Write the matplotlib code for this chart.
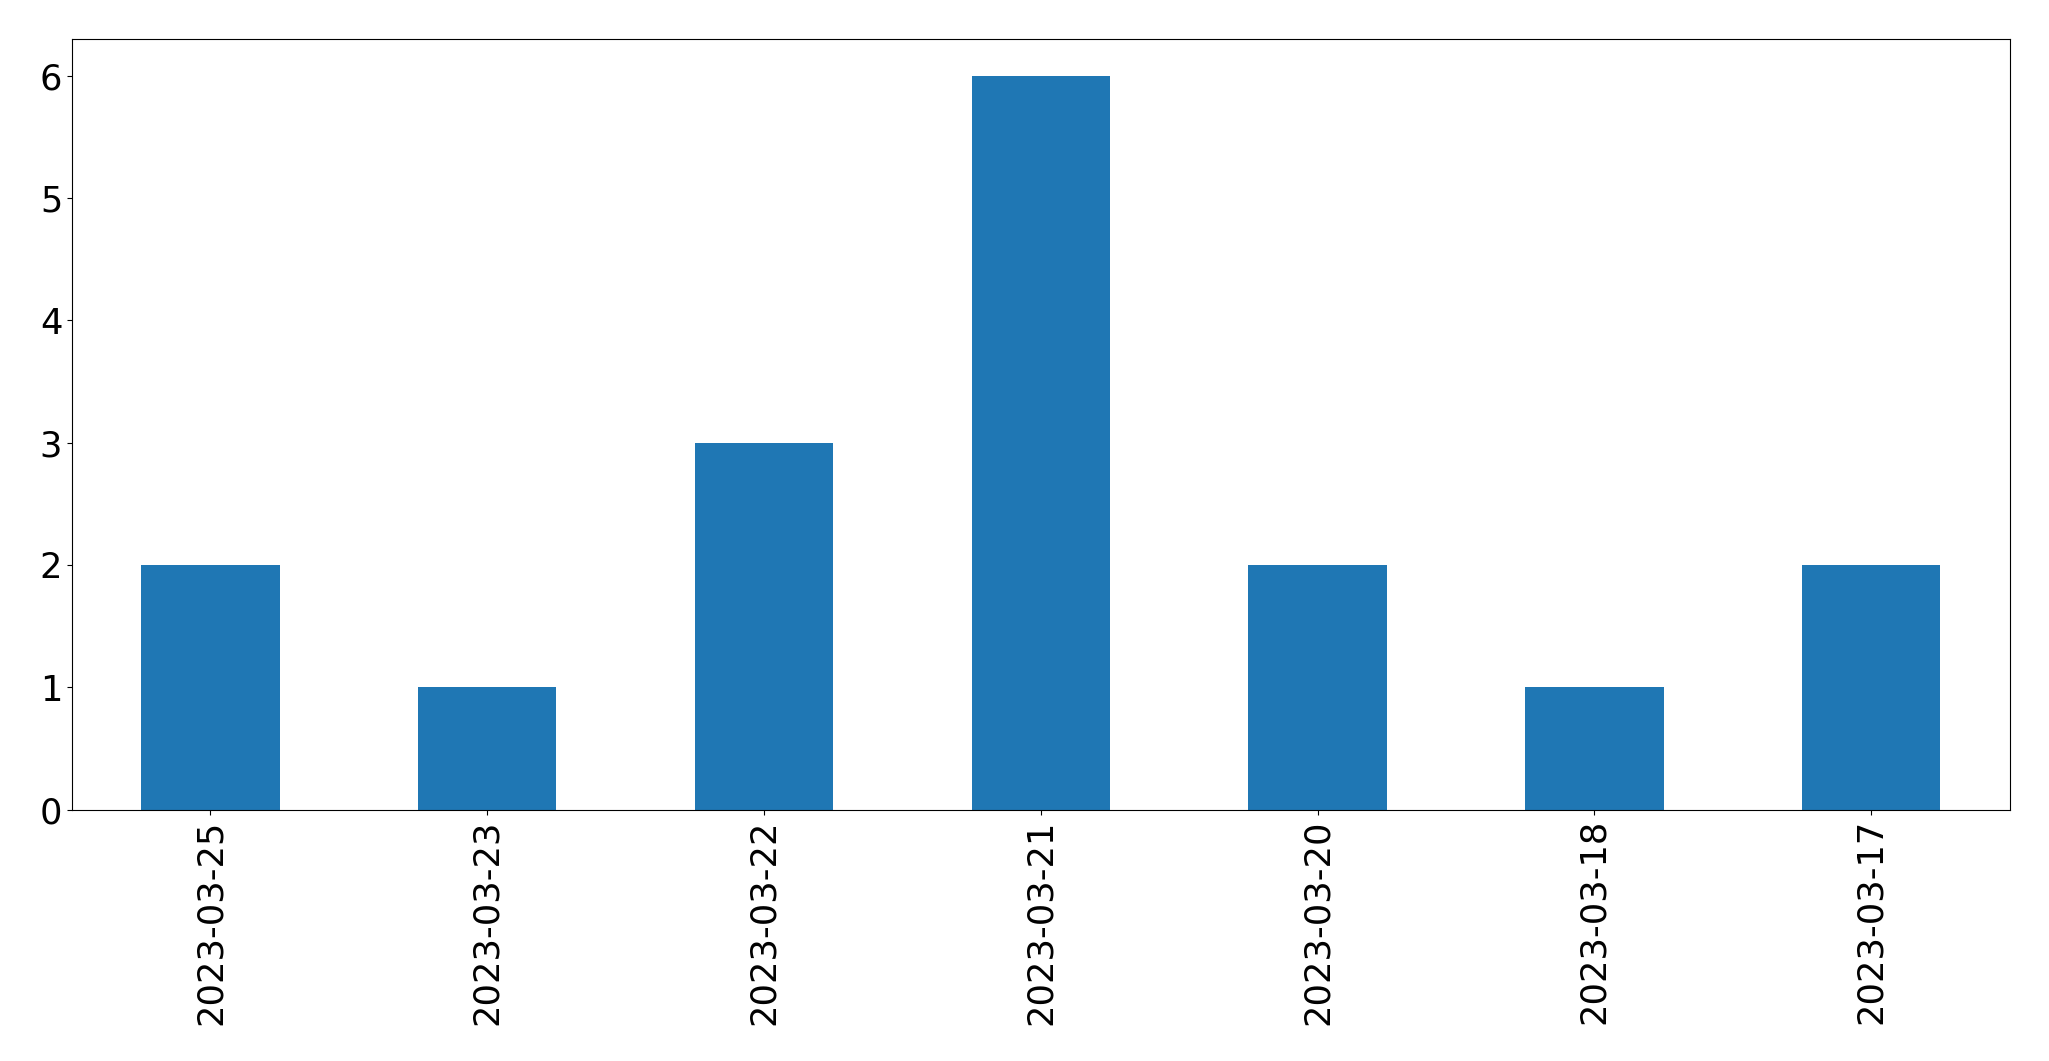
import matplotlib; matplotlib.use('Agg')
import matplotlib.pyplot as plt
import numpy as np

dates = ['2023-03-25', '2023-03-23', '2023-03-22', '2023-03-21',
         '2023-03-20', '2023-03-18', '2023-03-17']
counts = [2, 1, 3, 6, 2, 1, 2]

W, H = 2049, 1061
f = plt.figure(figsize=(W/100, H/100), dpi=100)
a = f.add_axes([72/W, 1-809.5/H, (2009.5-72)/W, (809.5-39)/H])
x = np.arange(len(dates))
a.bar(x, counts, width=0.5, color='#1f77b4')
a.set_xlim(-0.5, len(dates)-0.5)
a.set_ylim(0, max(counts)*1.05)
a.set_xticks(x)
a.set_xticklabels(dates, rotation=90)
a.tick_params(labelsize=25.4)
plt.savefig('out.png', dpi=100, facecolor='w')
